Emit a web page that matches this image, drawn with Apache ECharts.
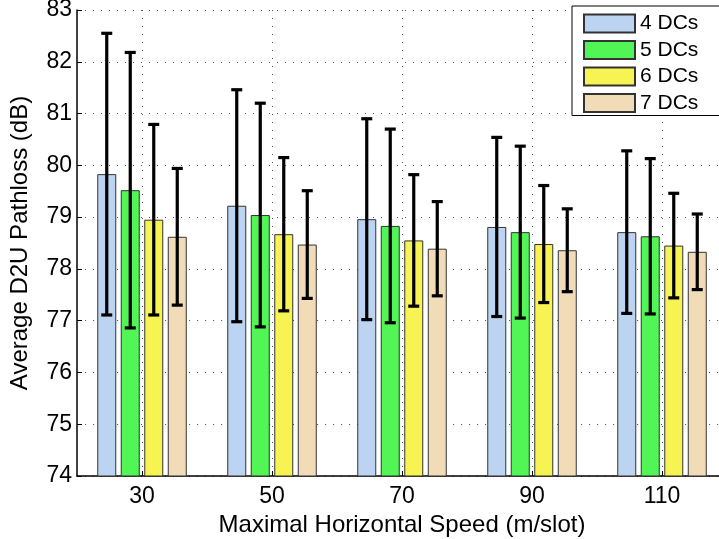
<!DOCTYPE html>
<html>
<head>
<meta charset="utf-8">
<script src="https://cdn.jsdelivr.net/npm/echarts@6/dist/echarts.min.js"></script>
<style>html,body{margin:0;padding:0;background:#fff;}#chart{width:719px;height:539px;}</style>
</head>
<body>
<div id="chart"></div>
<script>
const categories = ['30', '50', '70', '90', '110'];
const seriesNames = ['4 DCs', '5 DCs', '6 DCs', '7 DCs'];
const mean4 = [79.83, 79.22, 78.96, 78.81, 78.71];
const err4  = [2.72, 2.24, 1.94, 1.73, 1.57];
const mean5 = [79.52, 79.04, 78.83, 78.71, 78.63];
const err5  = [2.66, 2.16, 1.87, 1.66, 1.50];
const mean6 = [78.95, 78.67, 78.55, 78.48, 78.45];
const err6  = [1.84, 1.48, 1.27, 1.13, 1.01];
const mean7 = [78.62, 78.47, 78.39, 78.36, 78.33];
const err7  = [1.32, 1.04, 0.91, 0.80, 0.73];
const yTicks = [74, 75, 76, 77, 78, 79, 80, 81, 82, 83];

const means = [mean4, mean5, mean6, mean7];
const errs = [err4, err5, err6, err7];
const colors = ['#bcd4f1', '#52f556', '#f6f352', '#f2dcb8'];
const BAR_W = 19, BAR_GAP = 4.5;
const FONT = 'Liberation Sans, Arial, Helvetica, sans-serif';

const series = [];
means.forEach((m, i) => {
  series.push({
    name: seriesNames[i],
    type: 'bar',
    data: m,
    barWidth: BAR_W,
    barGap: (BAR_GAP / BAR_W * 100) + '%',
    itemStyle: { color: colors[i], borderColor: '#333', borderWidth: 1 },
    emphasis: { disabled: true },
    z: 2
  });
});
means.forEach((m, i) => {
  const offset = (i - 1.5) * (BAR_W + BAR_GAP);
  series.push({
    type: 'custom',
    name: 'err' + i,
    data: m.map((v, k) => [k, v - errs[i][k], v + errs[i][k]]),
    encode: { x: 0, y: [1, 2] },
    z: 5,
    silent: true,
    renderItem: function (params, api) {
      const idx = api.value(0);
      const lo = api.coord([idx, api.value(1)]);
      const hi = api.coord([idx, api.value(2)]);
      const x = lo[0] + offset;
      const cap = 5.5;
      const st = { stroke: '#000', lineWidth: 3.2 };
      return {
        type: 'group',
        children: [
          { type: 'line', shape: { x1: x, y1: hi[1], x2: x, y2: lo[1] }, style: st },
          { type: 'line', shape: { x1: x - cap, y1: hi[1], x2: x + cap, y2: hi[1] }, style: st },
          { type: 'line', shape: { x1: x - cap, y1: lo[1], x2: x + cap, y2: lo[1] }, style: st }
        ]
      };
    }
  });
});

const chart = echarts.init(document.getElementById('chart'), null, { renderer: 'canvas' });
chart.setOption({
  animation: false,
  backgroundColor: '#fff',
  textStyle: { fontFamily: FONT, color: '#000' },
  grid: { left: 77, top: 10, width: 650, height: 466, containLabel: false, outerBoundsMode: 'none' },
  legend: {
    data: seriesNames,
    orient: 'vertical',
    left: 572,
    top: 6,
    icon: 'rect',
    itemWidth: 51,
    itemHeight: 18,
    itemGap: 5.5,
    padding: [7, 22, 2, 11],
    borderColor: '#000',
    borderWidth: 1,
    backgroundColor: '#fff',
    textStyle: { fontSize: 21, lineHeight: 18, color: '#000', fontFamily: FONT },
    selectedMode: false
  },
  xAxis: {
    type: 'category',
    data: categories,
    name: 'Maximal Horizontal Speed (m/slot)',
    nameLocation: 'middle',
    nameGap: 34,
    nameTextStyle: { fontSize: 24, color: '#000', fontFamily: FONT },
    axisLine: { show: true, lineStyle: { color: '#000', width: 1.5 } },
    axisTick: { show: true, inside: true, length: 5, alignWithLabel: true, lineStyle: { color: '#000' } },
    axisLabel: { fontSize: 23, color: '#000', margin: 9, fontFamily: FONT },
    splitLine: { show: true, alignWithLabel: true, lineStyle: { color: '#555', width: 1, type: [1, 7] } }
  },
  yAxis: {
    type: 'value',
    min: yTicks[0],
    max: yTicks[yTicks.length - 1],
    interval: 1,
    name: 'Average D2U Pathloss (dB)',
    nameLocation: 'middle',
    nameGap: 45,
    nameTextStyle: { fontSize: 24, color: '#000', fontFamily: FONT },
    axisLine: { show: true, lineStyle: { color: '#000', width: 1.5 } },
    axisTick: { show: true, inside: true, length: 5, lineStyle: { color: '#000' } },
    axisLabel: { fontSize: 23, color: '#000', margin: 5, fontFamily: FONT },
    splitLine: { show: true, lineStyle: { color: '#555', width: 1, type: [1, 7] } }
  },
  series: series
});
</script>
</body>
</html>
